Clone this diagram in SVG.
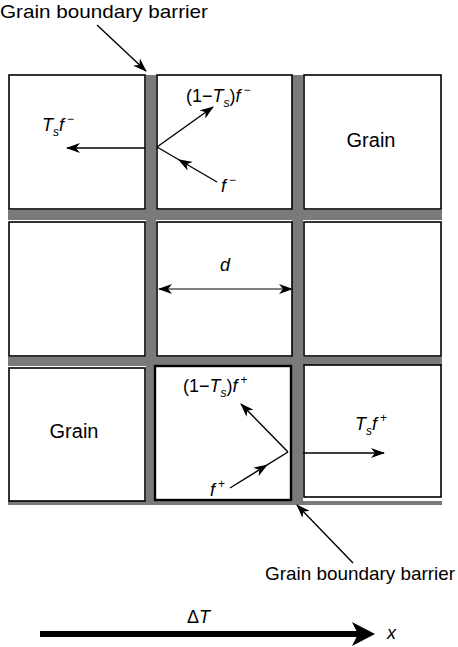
<svg xmlns="http://www.w3.org/2000/svg" width="458" height="647" viewBox="0 0 458 647">
<style>
  .bar{fill:#7a7a7a}
  .box{fill:#fff;stroke:#000;stroke-width:1.6}
  .t{font-family:"Liberation Sans",Arial,sans-serif;fill:#000}
  .lbl{font-size:20px}
  .m{font-size:18px}
  .i{font-style:italic}
  .sub{font-size:12px;font-style:italic}
  .sup{font-size:12px}
  .ar{stroke:#000;stroke-width:1.4;fill:none}
  .ar2{stroke:#555;stroke-width:1.6;fill:none}
</style>
<defs>
  <marker id="ah" viewBox="0 0 14 10" refX="13" refY="5" markerWidth="14" markerHeight="10" markerUnits="userSpaceOnUse" orient="auto-start-reverse">
    <path d="M0,0 L14,5 L0,10 L4,5 Z" fill="#000"/>
  </marker>
  <marker id="am" viewBox="0 0 14 10" refX="7" refY="5" markerWidth="14" markerHeight="10" markerUnits="userSpaceOnUse" orient="auto">
    <path d="M0,0 L14,5 L0,10 L4,5 Z" fill="#000"/>
  </marker>
</defs>

<g id="barriers">
  <rect class="bar" x="146" y="75" width="10" height="430"/>
  <rect class="bar" x="292" y="75" width="11" height="430"/>
  <rect class="bar" x="8" y="210" width="434" height="10"/>
  <rect class="bar" x="8" y="357" width="434" height="9"/>
  <rect class="bar" x="8" y="501" width="434" height="4"/>
</g>

<g id="cell-r1c1"><rect class="box" x="9" y="75" width="136" height="134"/></g>
<g id="cell-r1c2"><rect class="box" x="157" y="75" width="135" height="134"/></g>
<g id="cell-r1c3"><rect class="box" x="304" y="75" width="137" height="134"/>
  <text class="t lbl" x="371" y="147" text-anchor="middle">Grain</text></g>
<g id="cell-r2c1"><rect class="box" x="9" y="222" width="136" height="134"/></g>
<g id="cell-r2c2"><rect class="box" x="157" y="222" width="135" height="134"/></g>
<g id="cell-r2c3"><rect class="box" x="304" y="222" width="137" height="134"/></g>
<g id="cell-r3c1"><rect class="box" x="9" y="368" width="136" height="133"/>
  <text class="t lbl" x="74" y="438" text-anchor="middle">Grain</text></g>
<g id="cell-r3c2"><rect class="box" x="155" y="366" width="136" height="134" style="stroke-width:2.4"/></g>
<g id="cell-r3c3"><rect class="box" x="304" y="365" width="137" height="132"/></g>

<g id="connectors">
  <line class="ar" x1="97" y1="25" x2="146" y2="71" marker-end="url(#ah)"/>
  <line class="ar" x1="145" y1="148" x2="67" y2="148" marker-end="url(#ah)"/>
  <line class="ar" x1="157" y1="147" x2="213" y2="107" marker-end="url(#ah)"/>
  <polyline class="ar" points="217,182 184,162.75 157,147" marker-mid="url(#am)"/>
  <line class="ar2" x1="159" y1="289" x2="292" y2="289" marker-start="url(#ah)" marker-end="url(#ah)"/>
  <line class="ar" x1="288" y1="452" x2="241" y2="404" marker-end="url(#ah)"/>
  <polyline class="ar" points="230,488 261.9,468.2 288,452" marker-mid="url(#am)"/>
  <line class="ar" x1="303" y1="453" x2="384" y2="453" marker-end="url(#ah)"/>
  <line class="ar" x1="353" y1="563" x2="297" y2="505" marker-end="url(#ah)"/>
  <line x1="40" y1="634" x2="360" y2="634" stroke="#000" stroke-width="6"/>
  <path d="M352,622 L375,634 L352,646 L358,634 Z" fill="#000"/>
</g>

<g id="labels">
  <text class="t" x="0" y="18" textLength="208" lengthAdjust="spacingAndGlyphs" style="font-size:19px">Grain boundary barrier</text>
  <text class="t" x="265" y="580" textLength="190" lengthAdjust="spacingAndGlyphs" style="font-size:19px">Grain boundary barrier</text>
  <text class="t m" x="42" y="131"><tspan class="i">T</tspan><tspan class="sub" dy="5">s</tspan><tspan class="i" dy="-5">f</tspan><tspan class="sup" dx="3" dy="-8">−</tspan></text>
  <text class="t m" x="186" y="102">(1−<tspan class="i">T</tspan><tspan class="sub" dy="5">s</tspan><tspan dy="-5">)</tspan><tspan class="i">f</tspan><tspan class="sup" dx="3" dy="-8">−</tspan></text>
  <text class="t m" x="221" y="192"><tspan class="i">f</tspan><tspan class="sup" dx="3" dy="-8">−</tspan></text>
  <text class="t m i" x="220" y="271">d</text>
  <text class="t m" x="183" y="392">(1−<tspan class="i">T</tspan><tspan class="sub" dy="5">s</tspan><tspan dy="-5">)</tspan><tspan class="i">f</tspan><tspan class="sup" dx="3" dy="-8">+</tspan></text>
  <text class="t m" x="355" y="430"><tspan class="i">T</tspan><tspan class="sub" dy="5">s</tspan><tspan class="i" dy="-5">f</tspan><tspan class="sup" dx="3" dy="-8">+</tspan></text>
  <text class="t m" x="210" y="496"><tspan class="i">f</tspan><tspan class="sup" dx="3" dy="-8">+</tspan></text>
  <text class="t m" x="187" y="623">Δ<tspan class="i">T</tspan></text>
  <text class="t m i" x="387" y="639">x</text>
</g>
</svg>
